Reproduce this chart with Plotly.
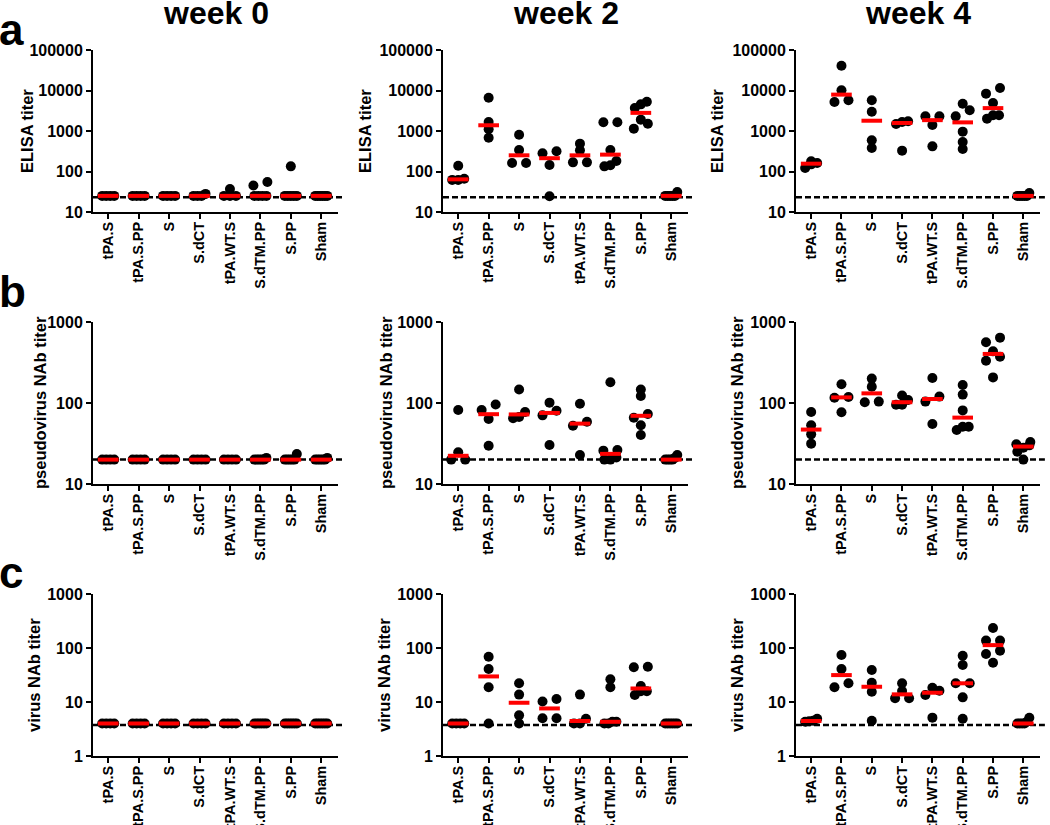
import numpy as np
import plotly.graph_objects as go

# ---------------- data ----------------
categories = ["tPA.S", "tPA.S.PP", "S", "S.dCT", "tPA.WT.S", "S.dTM.PP", "S.PP", "Sham"]
weeks = ["week 0", "week 2", "week 4"]
assay_titles = ["ELISA titer", "pseudovirus NAb titer", "virus NAb titer"]
panel_letters = ["a", "b", "c"]

elisa_w0 = [[25, 25, 25, 25], [25, 25, 25, 25], [25, 25, 25, 25], [25, 25, 28, 25],
            [25, 37, 25, 25], [25, 25, 25, 25, 45, 55], [25, 25, 25, 25, 25, 134],
            [25, 25, 25, 25, 25, 25]]
elisa_w2 = [[62, 62, 66, 139], [680, 1100, 1670, 6600], [162, 162, 340, 811],
            [24.4, 145, 281, 315], [168, 168, 333, 487], [134, 142, 182, 340, 1637, 1637],
            [1142, 1517, 1905, 3700, 4550, 5300], [25, 25, 25, 25, 25, 31]]
elisa_w4 = [[122, 150, 162, 178], [5200, 5720, 10100, 41000], [380, 589, 3000, 5720],
            [327, 1489, 1668, 1733], [418, 1406, 2300, 2300], [359, 535, 964, 2300, 3240, 4730],
            [2017, 2437, 2437, 4910, 8360, 11530], [25, 25, 25, 25, 25, 29.5]]

pseudo_w0 = [[20, 20, 20, 20], [20, 20, 20, 20], [20, 20, 20, 20], [20, 20, 20, 20],
             [20, 20, 20, 20], [20, 20, 20, 20, 20, 21], [20, 20, 20, 20, 20, 23.5],
             [20, 20, 20, 20, 20, 21]]
pseudo_w2 = [[20, 20, 24.6, 82], [29.7, 63.5, 82, 96], [64.7, 67.1, 77.4, 147],
             [30.3, 70.4, 80.4, 101], [22.8, 52.5, 58.8, 98], [20, 20, 21.3, 25.8, 26.3, 180],
             [40.3, 53, 65.9, 73.1, 122, 147], [20, 20, 20, 20, 21, 22.8]]
pseudo_w4 = [[31.5, 41, 53, 77.4], [76.7, 116, 118.6, 170], [102, 104, 159, 200],
             [95, 95.4, 109, 124], [55, 104, 120, 204], [46.4, 51, 51, 81, 127, 167],
             [207, 333, 373, 434, 561, 641], [20, 25, 28, 30, 31, 33]]

virus_w0 = [[4, 4, 4, 4], [4, 4, 4, 4], [4, 4, 4, 4], [4, 4, 4, 4], [4, 4, 4, 4],
            [4, 4, 4, 4, 4, 4], [4, 4, 4, 4, 4, 4], [4, 4, 4, 4, 4, 4]]
virus_w2 = [[4, 4, 4, 4], [4, 18.7, 40.8, 69], [4, 5.66, 13.7, 22.2], [5, 5, 10.2, 11.4],
            [4, 4, 4.9, 13.7], [4, 4, 4.3, 4.3, 18.7, 26.3],
            [13.5, 15.8, 15.8, 19.8, 43.9, 45], [4, 4, 4, 4, 4, 4]]
virus_w4 = [[4.3, 4.4, 4.5, 4.9], [18.7, 22.2, 40.8, 74], [4.5, 15.5, 22.8, 39.1],
            [11.7, 11.7, 16, 22.2], [5.13, 13.5, 16.2, 18.4], [4.9, 12.2, 22.2, 22.2, 48.4, 72],
            [53.5, 77.4, 89, 137, 137, 234], [4, 4, 4, 4, 4.3, 5.1]]

detection_limits = [23, 20, 3.75]
y_tickvals = [[10, 100, 1000, 10000, 100000], [10, 100, 1000], [1, 10, 100, 1000]]

panels = [[elisa_w0, elisa_w2, elisa_w4],
          [pseudo_w0, pseudo_w2, pseudo_w4],
          [virus_w0, virus_w2, virus_w4]]

# ---------------- geometry ----------------
W, H = 1050, 825
col_px = [(93, 338), (443, 688), (796, 1040)]
row_px = [(50, 212), (322, 484), (594, 756)]
ytitle_x_px = [[27, 365, 717], [40, 386, 737], [34, 384, 737]]
letter_y_px = [29, 291, 572]
week_y_px = 13
x_range = [-0.5, 7.55]
FONT = "Liberation Sans, Arial, sans-serif"
DOT_PX = 7.0


def px_x(p):
    return p / W


def px_y(p):
    return 1 - p / H


def beeswarm(vals, px_per_decade, px_per_unit):
    y = np.log10(np.asarray(vals, dtype=float)) * px_per_decade
    order = np.argsort(y, kind="stable")
    offs = np.zeros(len(vals))
    clusters, cur = [], [order[0]]
    for idx in order[1:]:
        if y[idx] - y[cur[0]] < 6.5:
            cur.append(idx)
        else:
            clusters.append(cur)
            cur = [idx]
    clusters.append(cur)
    for c in clusters:
        n = len(c)
        if n == 1:
            continue
        step = 2 * DOT_PX if n == 2 else min(DOT_PX, 12.0 / (n - 1))
        for k, idx in enumerate(c):
            offs[idx] = (k - (n - 1) / 2) * step
    return offs / px_per_unit


fig = go.Figure()
layout = dict(width=W, height=H, autosize=False, showlegend=False,
              margin=dict(l=0, r=0, t=0, b=0, pad=0, autoexpand=False),
              paper_bgcolor="white", plot_bgcolor="white",
              font=dict(family=FONT, color="black"))
shapes, annotations = [], []

for r in range(3):
    tv = y_tickvals[r]
    yr = [np.log10(tv[0]), np.log10(tv[-1])]
    px_per_decade = (row_px[r][1] - row_px[r][0]) / (yr[1] - yr[0])
    for c in range(3):
        k = r * 3 + c + 1
        xa = "x" if k == 1 else f"x{k}"
        ya = "y" if k == 1 else f"y{k}"
        px_per_unit = (col_px[c][1] - col_px[c][0]) / (x_range[1] - x_range[0])

        layout["xaxis" if k == 1 else f"xaxis{k}"] = dict(
            domain=[px_x(col_px[c][0]), px_x(col_px[c][1])], anchor=ya,
            range=x_range, tickmode="array", tickvals=list(range(len(categories))),
            ticktext=categories, tickangle=-90, showline=True, linewidth=2,
            linecolor="black", ticks="outside", ticklen=5, tickwidth=2,
            tickcolor="black", showgrid=False, zeroline=False, automargin=False,
            ticklabelstandoff=-3,
            tickfont=dict(family=FONT, size=14.5, color="black", weight="bold"))
        layout["yaxis" if k == 1 else f"yaxis{k}"] = dict(
            domain=[px_y(row_px[r][1]), px_y(row_px[r][0])], anchor=xa,
            type="log", range=yr, tickmode="array", tickvals=tv,
            ticktext=[str(v) for v in tv], showline=True, linewidth=2,
            linecolor="black", ticks="outside", ticklen=5, tickwidth=2,
            tickcolor="black", showgrid=False, zeroline=False, automargin=False,
            tickfont=dict(family=FONT, size=16, color="black", weight="bold"))

        # detection limit dashed line
        shapes.append(dict(type="line", xref=f"{xa} domain", yref=ya,
                           x0=0, x1=1.02, y0=detection_limits[r], y1=detection_limits[r],
                           line=dict(color="black", width=2.5, dash="6px,3px"),
                           layer="below"))

        data = panels[r][c]
        xs, ys = [], []
        mx, my = [], []
        for g, vals in enumerate(data):
            offs = beeswarm(vals, px_per_decade, px_per_unit)
            xs += list(g + offs)
            ys += list(vals)
            med = float(np.median(vals))
            mx += [g - 0.34, g + 0.34, None]
            my += [med, med, None]
        fig.add_trace(go.Scatter(x=xs, y=ys, mode="markers", xaxis=xa, yaxis=ya,
                                 marker=dict(size=10, color="black", line=dict(width=0)),
                                 cliponaxis=False, hoverinfo="skip"))
        fig.add_trace(go.Scatter(x=mx, y=my, mode="lines", xaxis=xa, yaxis=ya,
                                 line=dict(color="#ff0000", width=4),
                                 cliponaxis=False, hoverinfo="skip"))

        # y-axis title
        annotations.append(dict(text=assay_titles[r], xref="paper", yref="paper",
                                x=px_x(ytitle_x_px[r][c]),
                                y=px_y((row_px[r][0] + row_px[r][1]) / 2),
                                xanchor="center", yanchor="middle", textangle=-90,
                                showarrow=False,
                                font=dict(family=FONT, size=16.5, color="black", weight="bold")))

    annotations.append(dict(text=panel_letters[r], xref="paper", yref="paper",
                            x=px_x(-3), y=px_y(letter_y_px[r]), xanchor="left", yanchor="middle",
                            showarrow=False,
                            font=dict(family=FONT, size=44, color="black", weight="bold")))

for c in range(3):
    annotations.append(dict(text=weeks[c], xref="paper", yref="paper",
                            x=px_x((col_px[c][0] + col_px[c][1]) / 2), y=px_y(week_y_px),
                            xanchor="center", yanchor="middle", showarrow=False,
                            font=dict(family=FONT, size=32, color="black", weight="bold")))

layout["shapes"] = shapes
layout["annotations"] = annotations
fig.update_layout(**layout)
fig.write_html("out.html",
               config={"displayModeBar": False, "staticPlot": True},
               post_script="document.body.style.margin='0';document.body.style.overflow='hidden';")
